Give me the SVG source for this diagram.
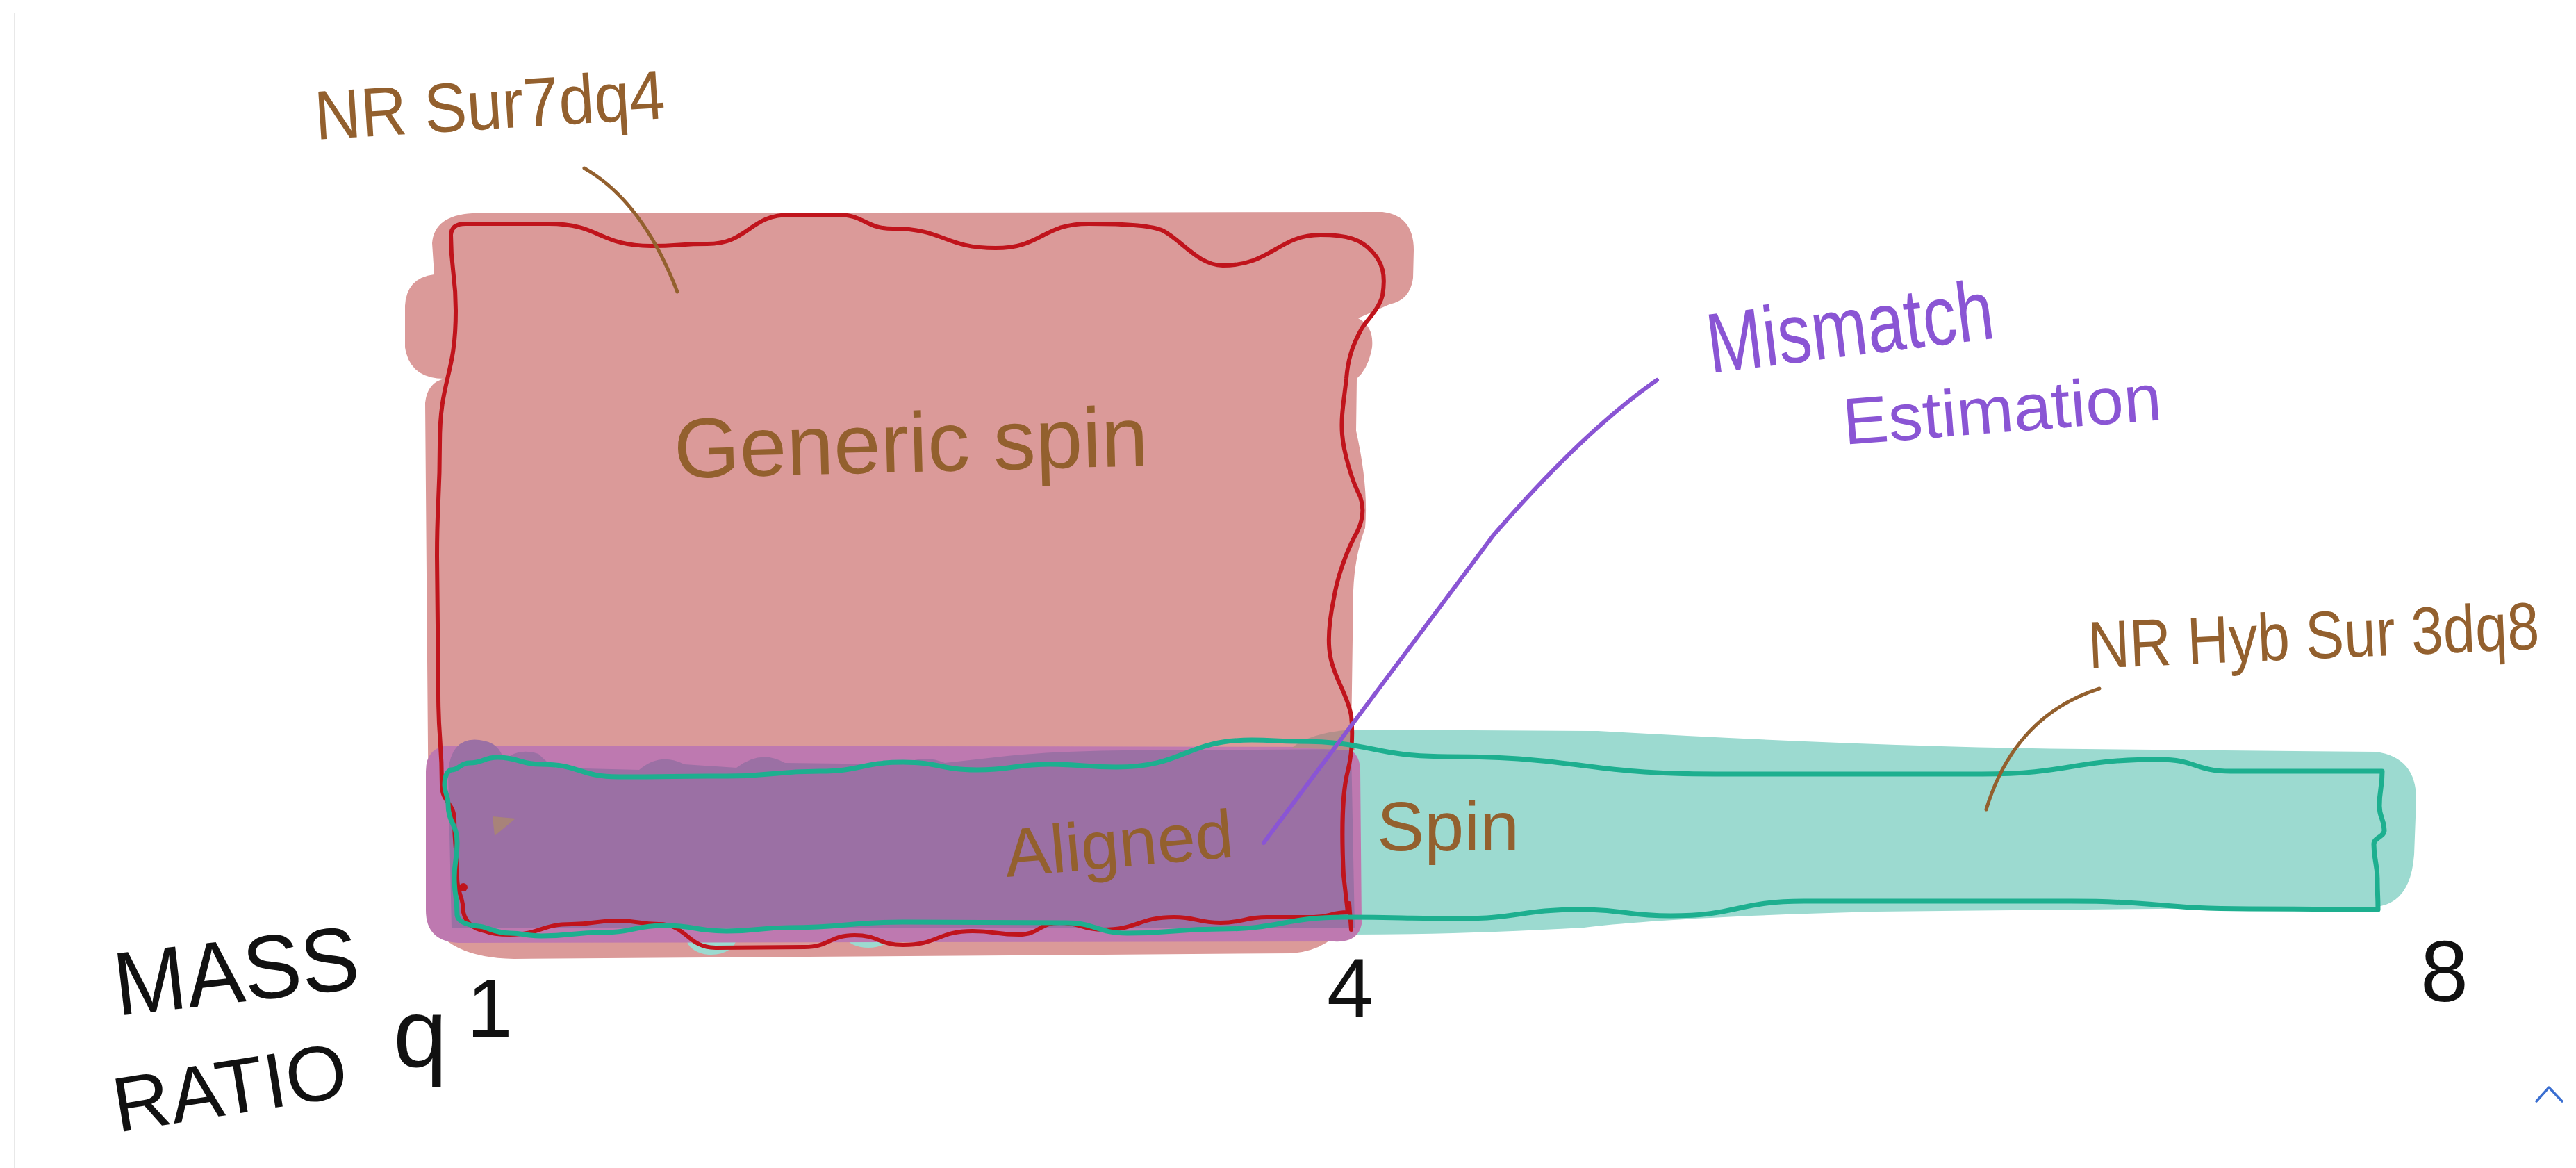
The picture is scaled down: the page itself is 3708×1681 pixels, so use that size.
<svg xmlns="http://www.w3.org/2000/svg" width="3708" height="1681" viewBox="0 0 3708 1681">
<style>
.hand{font-family:"Liberation Sans","DejaVu Sans",sans-serif;}
.brown{fill:#93602E;}
.purp{fill:#8A55D4;}
.blk{fill:#111;}
.red{fill:none;stroke:#C0141C;stroke-width:6;stroke-linecap:round;stroke-linejoin:round;}
.teal{fill:none;stroke:#1DAF8F;stroke-width:7;stroke-linecap:round;stroke-linejoin:round;}
.lead{fill:none;stroke:#93602E;stroke-width:5;stroke-linecap:round;}
.plead{fill:none;stroke:#8A55D4;stroke-width:6;stroke-linecap:round;}
</style>
<rect x="0" y="0" width="3708" height="1681" fill="#FFFFFF"/>
<line x1="21" y1="19" x2="21" y2="1681" stroke="#E8E8E8" stroke-width="2"/>

<g id="nrsur7dq4-region">
<path fill="#DB9A99" d="M680,307 L1990,305 Q2035,310 2035,360 L2034,400 Q2030,432 2000,438 L1955,458 Q1978,470 1975,500 Q1970,530 1953,545 L1952,620 Q1970,700 1965,760 Q1950,800 1948,850 L1945,1060 L1945,1320 Q1915,1368 1860,1372 L740,1380 Q640,1378 618,1320 L612,580 Q615,550 640,545 Q590,545 583,500 L583,440 Q585,400 625,395 L622,350 Q625,310 680,307 Z"/>
</g>

<g id="nrhybsur3dq8-region">
<path fill="#9CDAD0" d="M1945,1050 L2300,1052 Q2700,1075 3000,1078 L3420,1082 Q3478,1090 3478,1150 L3475,1230 Q3470,1300 3420,1305 L2700,1312 Q2400,1320 2280,1335 Q2100,1345 1945,1345 Z"/>
<ellipse cx="1024" cy="1350" rx="36" ry="24" fill="#9CDAD0"/>
<ellipse cx="1250" cy="1348" rx="32" ry="16" fill="#9CDAD0"/>
</g>

<g id="aligned-spin-band">
<path fill="#BE79B0" d="M650,1073 L1930,1075 Q1958,1078 1958,1110 L1960,1330 Q1955,1357 1920,1355 L660,1357 Q613,1355 613,1310 L613,1110 Q613,1073 650,1073 Z"/>
<path fill="#9B70A4" d="M645,1110 Q650,1060 690,1065 Q720,1068 725,1095 Q745,1075 775,1085 Q790,1100 800,1105 L920,1108 Q950,1082 985,1100 L1060,1105 Q1095,1078 1130,1098 L1300,1100 Q1330,1085 1360,1098 L1450,1088 Q1550,1078 1700,1080 L1945,1078 L1950,1335 L650,1335 Z"/>
<path fill="#B38F8B" d="M1860,1076 Q1885,1055 1945,1050 L1950,1080 Z"/>
<polygon points="709,1175 742,1178 712,1203" fill="#A88379"/>
</g>

<g id="outlines">
<path class="red" d="M670,322 L790,322 C863,322 863,354 937,354 C978,354 978,351 1018,351 C1078,351 1078,309 1138,309 L1205,309 C1245,309 1245,329 1285,329 C1359,329 1359,357 1433,357 C1500,357 1500,322 1567,322 C1620,322 1660,325 1674,332 C1700,345 1725,382 1760,382 C1830,382 1840,338 1901,338 C1940,338 1960,345 1975,362 C1990,378 1995,395 1990,425 C1985,445 1968,460 1960,473 C1945,500 1940,520 1938,545 C1934,580 1930,600 1932,625 C1934,650 1945,690 1958,715 C1965,735 1960,755 1950,772 C1938,795 1925,830 1920,861 C1914,890 1910,920 1915,945 C1920,975 1940,1000 1945,1030 C1948,1060 1945,1090 1940,1110 C1932,1140 1931,1200 1934,1260 L1940,1313 C1915,1313 1915,1320 1891,1320 L1824,1320 C1790,1320 1790,1328 1757,1328 C1723,1328 1723,1320 1690,1320 C1638,1320 1638,1338 1587,1338 C1556,1338 1556,1328 1525,1328 C1496,1328 1496,1345 1467,1345 C1433,1345 1433,1340 1400,1340 C1350,1340 1350,1360 1300,1360 C1265,1360 1265,1346 1230,1346 C1194,1346 1194,1363 1158,1363 L1030,1364 C989,1364 989,1330 948,1330 C919,1330 919,1325 890,1325 C856,1325 856,1330 823,1330 C778,1330 778,1345 734,1345 C716,1345 705,1343 698,1340 Q672,1335 667,1313 C667,1288 658,1288 658,1263 C658,1222 654,1222 654,1180 C654,1155 636,1155 636,1130 C636,1065 631,1065 631,1000 L629,800 C629,720 633,720 633,640 C633,543 656,543 656,447 C656,392 649,392 649,338 Q650,322 670,322 Z"/>
<path class="red" d="M1942,1300 L1945,1338"/>
<circle cx="667" cy="1277" r="6" fill="#C0141C"/>
<path class="teal" d="M649,1108 C662,1108 662,1098 676,1098 C696,1098 696,1090 716,1090 C747,1090 747,1100 779,1100 C834,1100 834,1118 890,1118 C968,1118 968,1117 1046,1117 C1113,1117 1113,1110 1180,1110 C1240,1110 1240,1097 1300,1097 C1353,1097 1353,1108 1406,1108 C1459,1108 1459,1100 1512,1100 C1560,1100 1560,1104 1607,1104 C1705,1104 1705,1065 1802,1065 C1835,1065 1835,1067 1869,1067 C1976,1067 1976,1089 2084,1089 C2276,1089 2276,1114 2469,1114 L2853,1114 C2981,1114 2981,1093 3109,1093 C3160,1093 3160,1110 3211,1110 L3429,1110 C3429,1135 3425,1135 3425,1160 C3425,1178 3432,1178 3432,1195 C3432,1205 3417,1205 3417,1215 C3417,1240 3422,1240 3422,1265 C3422,1287 3423,1287 3423,1309 C3330,1309 3330,1308 3237,1308 C3109,1308 3109,1297 2981,1297 L2597,1297 C2501,1297 2501,1318 2405,1318 C2340,1318 2340,1309 2276,1309 C2188,1309 2188,1322 2100,1322 C2018,1322 2018,1320 1936,1320 C1846,1320 1846,1337 1757,1337 C1690,1337 1690,1343 1623,1343 C1578,1343 1578,1328 1534,1328 L1300,1327 C1218,1327 1218,1335 1136,1335 C1091,1335 1091,1340 1046,1340 C1001,1340 1001,1332 957,1332 C912,1332 912,1342 868,1342 C823,1342 823,1347 779,1347 C756,1347 756,1343 734,1343 C711,1343 700,1333 689,1333 Q660,1330 658,1317 C658,1290 654,1290 654,1263 C654,1238 658,1238 658,1213 C658,1185 645,1185 645,1157 C645,1143 640,1143 640,1130 Q640,1112 649,1108 Z"/>
</g>

<g id="connectors">
<path class="lead" d="M841,242 Q925,290 975,420"/>
<path class="lead" d="M3022,991 Q2900,1030 2859,1165"/>
<path class="plead" d="M2385,547 Q2280,620 2150,770 L1819,1213"/>
</g>

<g id="label-nrsur7dq4">
<text class="hand brown" x="455" y="201" font-size="100" textLength="505" lengthAdjust="spacingAndGlyphs" transform="rotate(-3.5 455 201)">NR Sur7dq4</text>
</g>
<g id="label-generic">
<text class="hand brown" x="971" y="688" font-size="122" textLength="683" lengthAdjust="spacingAndGlyphs" transform="rotate(-1.5 971 688)">Generic  spin</text>
</g>
<g id="label-mismatch">
<text class="hand purp" x="2462" y="537" font-size="122" textLength="415" lengthAdjust="spacingAndGlyphs" transform="rotate(-7 2462 537)">Mismatch</text>
<text class="hand purp" x="2655" y="640" font-size="95" textLength="460" lengthAdjust="spacingAndGlyphs" transform="rotate(-4.5 2655 640)">Estimation</text>
</g>
<g id="label-nrhybsur3dq8">
<text class="hand brown" x="0" y="0" font-size="86" textLength="650" lengthAdjust="spacingAndGlyphs" transform="translate(3007 962) rotate(-2.5) scale(1 1.12)">NR Hyb Sur 3dq8</text>
</g>
<g id="label-aligned">
<text class="hand brown" x="1449" y="1262" font-size="98" textLength="330" lengthAdjust="spacingAndGlyphs" transform="rotate(-5 1449 1262)">Aligned</text>
<text class="hand brown" x="1982" y="1224" font-size="100" textLength="205" lengthAdjust="spacingAndGlyphs">Spin</text>
</g>
<g id="axis">
<text class="hand blk" x="169" y="1462" font-size="130" textLength="354" lengthAdjust="spacingAndGlyphs" transform="rotate(-6.5 169 1462)">MASS</text>
<text class="hand blk" x="169" y="1630" font-size="112" textLength="340" lengthAdjust="spacingAndGlyphs" transform="rotate(-9 169 1630)">RATIO</text>
<text class="hand blk" x="566" y="1535" font-size="140">q</text>
<text class="hand blk" x="672" y="1492" font-size="118">1</text>
<text class="hand blk" x="1910" y="1464" font-size="120">4</text>
<text class="hand blk" x="3484" y="1441" font-size="124">8</text>
</g>
<g id="ui">
<polyline points="3651,1585 3669,1565 3688,1585" fill="none" stroke="#3B6FD1" stroke-width="3.5" stroke-linecap="round" stroke-linejoin="round"/>
</g>
</svg>
